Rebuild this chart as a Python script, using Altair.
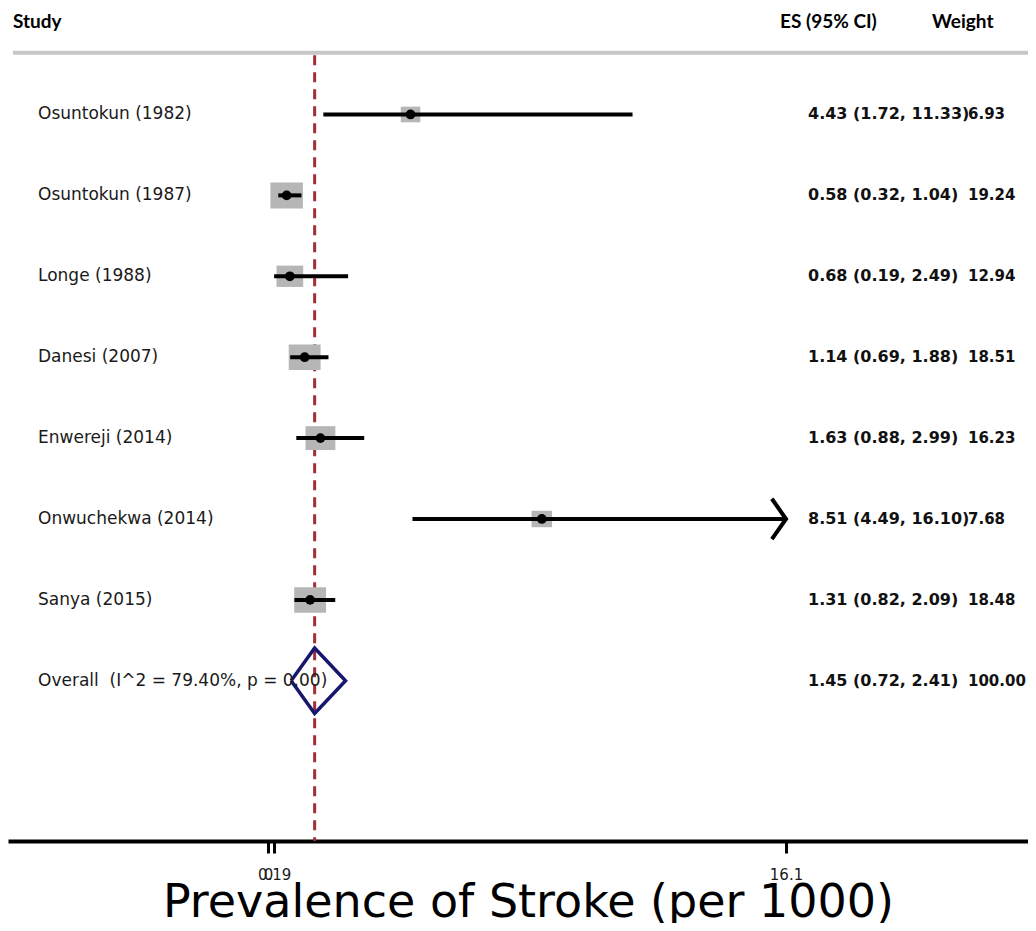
import altair as alt
import pandas as pd

# ---------------- data ----------------
studies = ["Osuntokun (1982)", "Osuntokun (1987)", "Longe (1988)", "Danesi (2007)",
           "Enwereji (2014)", "Onwuchekwa (2014)", "Sanya (2015)"]
es = [4.43, 0.58, 0.68, 1.14, 1.63, 8.51, 1.31]
lci = [1.72, 0.32, 0.19, 0.69, 0.88, 4.49, 0.82]
uci = [11.33, 1.04, 2.49, 1.88, 2.99, 16.10, 2.09]
weights = [6.93, 19.24, 12.94, 18.51, 16.23, 7.68, 18.48]

overall_label = "Overall\u00a0\u00a0(I^2 = 79.40%, p = 0.00)"
overall_es = [1.45]
overall_lci = [0.72]
overall_uci = [2.41]
overall_weight = [100.00]

headers = ["Study", "ES (95% CI)", "Weight"]
tick_values = [0, 0.19, 16.1]
tick_labels = ["0", "0.19", "16.1"]
axis_title = "Prevalence of Stroke (per 1000)"

# ---------------- layout / styles ----------------
W, H = 1020, 833
X_DOMAIN = [-8.08, 23.62]
Y_DOMAIN = [-0.316, 9.98]
HEADER_ROW = -0.144
TOPLINE_ROW = 0.237
DIAMOND_HALF = 0.405
ARROW_DX, ARROW_DY = 0.44, 0.25
FONT = "DejaVu Sans"

xscale = alt.Scale(domain=X_DOMAIN, nice=False, zero=False)
yscale = alt.Scale(domain=Y_DOMAIN, nice=False, zero=False, reverse=True)

label_map = "{" + ", ".join(f"'{v}': '{l}'" for v, l in zip(tick_values, tick_labels)) + "}"
xaxis = alt.Axis(
    values=tick_values,
    labelExpr=f"{label_map}[toString(datum.value)] || datum.label",
    grid=False, domainWidth=4, domainColor="black", domainCap="butt",
    tickWidth=3, tickSize=12, tickColor="black",
    labelFont=FONT, labelFontSize=15, labelColor="#1a1a1a", labelPadding=14,
    labelOverlap=False, labelFlush=False,
    title=axis_title, titleFont=FONT, titleFontSize=46, titleFontWeight="normal",
    titleColor="black", titlePadding=-2, titleX=520, titleAlign="center",
)

n = len(studies)
rows = list(range(1, n + 1))
overall_row = n + 1
df = pd.DataFrame({
    "study": studies, "es": es, "lci": lci, "uci": uci, "weight": weights, "row": rows,
})
df["es_text"] = [f"{e:.2f} ({l:.2f}, {u:.2f})" for e, l, u in zip(es, lci, uci)]
df["w_text"] = [f"{w:.2f}" for w in weights]

ov = pd.DataFrame({
    "study": [overall_label], "es": overall_es, "lci": overall_lci, "uci": overall_uci,
    "weight": overall_weight, "row": [overall_row],
})
ov["es_text"] = [f"{e:.2f} ({l:.2f}, {u:.2f})" for e, l, u in zip(overall_es, overall_lci, overall_uci)]
ov["w_text"] = [f"{w:.2f}" for w in overall_weight]
labels_df = pd.concat([df, ov], ignore_index=True)

# diamond for pooled estimate
dia = pd.DataFrame({
    "x": [overall_lci[0], overall_es[0], overall_uci[0], overall_es[0], overall_lci[0]],
    "y": [overall_row, overall_row - DIAMOND_HALF, overall_row, overall_row + DIAMOND_HALF, overall_row],
    "o": [0, 1, 2, 3, 4],
})

# arrows for CIs reaching the axis limit
xmax = max(tick_values)
arr_recs = []
for i, (u, r) in enumerate(zip(uci, rows)):
    if u >= xmax:
        arr_recs += [
            {"x": xmax - ARROW_DX, "y": r - ARROW_DY, "g": i, "o": 0},
            {"x": xmax, "y": r, "g": i, "o": 1},
            {"x": xmax - ARROW_DX, "y": r + ARROW_DY, "g": i, "o": 2},
        ]
arr = pd.DataFrame(arr_recs)

df["uci_draw"] = [min(u, xmax) for u in uci]

Y = lambda f: alt.Y(f, type="quantitative", scale=yscale, axis=None)
X = lambda f: alt.X(f, type="quantitative", scale=xscale, axis=xaxis)

# ---------------- layers ----------------
top_line = alt.Chart(pd.DataFrame({"a": [0]})).mark_rule(
    color="#c6c6c6", strokeWidth=4
).encode(x=alt.value(5), x2=alt.value(W), y=alt.YDatum(TOPLINE_ROW, scale=yscale, axis=None))

null_line = alt.Chart(pd.DataFrame({"es": overall_es})).mark_rule(
    color="#a22f38", strokeWidth=3, strokeDash=[10, 7]
).encode(
    x=X("es"),
    y=alt.YDatum(TOPLINE_ROW + 0.03, scale=yscale, axis=None),
    y2=alt.value(H),
)

boxes = alt.Chart(df).mark_point(
    filled=True, opacity=1, color="#b6b6b6",
    shape="M-1.25,-1L1.25,-1L1.25,1L-1.25,1Z",
).encode(
    x=X("es"),
    y=Y("row"),
    size=alt.Size("weight:Q", scale=alt.Scale(domain=[0, max(weights)], range=[0, 676]), legend=None),
)

ci = alt.Chart(df).mark_rule(color="black", strokeWidth=4).encode(
    x=X("lci"),
    x2="uci_draw:Q",
    y=Y("row"),
)

arrows = alt.Chart(arr).mark_line(color="black", strokeWidth=4, strokeJoin="miter").encode(
    x=X("x"),
    y=Y("y"),
    detail="g:N",
    order="o:Q",
)

dots = alt.Chart(df).mark_point(filled=True, opacity=1, color="black", shape="circle", size=95).encode(
    x=X("es"),
    y=Y("row"),
)

diamond = alt.Chart(dia).mark_line(color="#17176e", strokeWidth=3.5, strokeJoin="miter").encode(
    x=X("x"),
    y=Y("y"),
    order="o:Q",
)

study_text = alt.Chart(labels_df).mark_text(
    align="left", baseline="middle", font=FONT, fontSize=17, color="#1a1a1a"
).encode(x=alt.value(30), y=Y("row"), text="study:N")

es_text = alt.Chart(labels_df).mark_text(
    align="left", baseline="middle", font=FONT, fontSize=16, fontWeight="bold", color="#111111"
).encode(x=alt.value(800), y=Y("row"), text="es_text:N")

w_text = alt.Chart(labels_df).mark_text(
    align="left", baseline="middle", font=FONT, fontSize=15, fontWeight="bold", color="#111111"
).encode(x=alt.value(960), y=Y("row"), text="w_text:N")

header_x = [5, 772, 924]
header_layers = []
for h, hx in zip(headers, header_x):
    header_layers.append(
        alt.Chart(pd.DataFrame({"t": [h]})).mark_text(
            align="left", baseline="middle", font="Lato", fontSize=19, fontWeight="bold", color="black"
        ).encode(x=alt.value(hx), y=alt.YDatum(HEADER_ROW, scale=yscale, axis=None), text="t:N")
    )

chart = alt.layer(
    top_line, null_line, boxes, ci, arrows, dots, diamond,
    study_text, es_text, w_text, *header_layers,
).properties(
    width=W, height=H,
    autosize=alt.AutoSizeParams(type="none"),
    padding={"left": 0, "top": 0, "right": 0, "bottom": 82},
    background="white",
).configure_view(stroke=None)

chart.save("out.html", embed_options={"renderer": "svg", "actions": False})
